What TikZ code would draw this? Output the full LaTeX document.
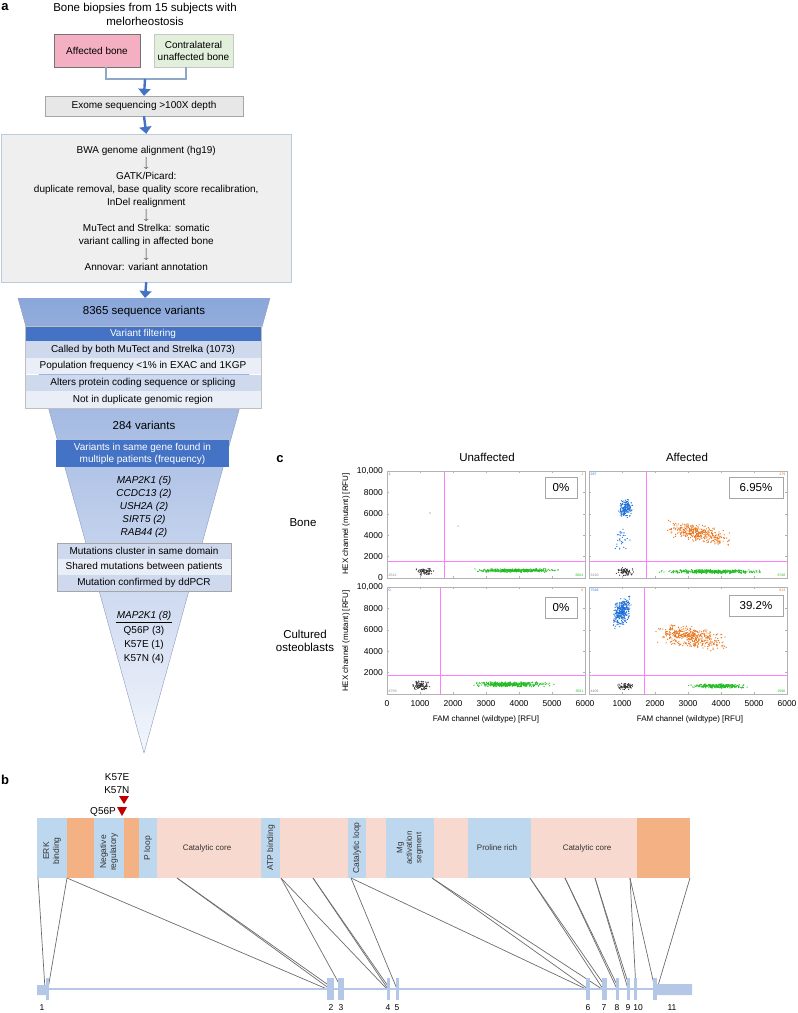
\documentclass[tikz,border=0pt]{standalone}
\usepackage{fontspec}
\setmainfont{Liberation Sans}
\usetikzlibrary{positioning,arrows.meta,calc}

\definecolor{flowblue}{HTML}{4472C4}
\definecolor{bracketblue}{HTML}{8EA9C8}
\definecolor{pinkbox}{HTML}{F4B0C2}
\definecolor{greenbox}{HTML}{E2EFDA}
\definecolor{greybox}{HTML}{E7E7E7}
\definecolor{pipebox}{HTML}{EFEFEF}
\definecolor{funtop}{HTML}{8BA7DA}
\definecolor{funtip}{HTML}{F3F6FC}
\definecolor{rowdark}{HTML}{CFD9EE}
\definecolor{rowlight}{HTML}{E9EEF7}
\definecolor{dombl}{HTML}{BDD7EE}
\definecolor{domor}{HTML}{F4B183}
\definecolor{dompk}{HTML}{F8D9CF}
\definecolor{exonbl}{HTML}{B4C7E7}
\definecolor{mutred}{HTML}{C00000}
\definecolor{dropblue}{HTML}{1F6FD6}
\definecolor{droporange}{HTML}{E8731A}
\definecolor{dropgreen}{HTML}{22BB22}
\definecolor{dropblack}{HTML}{333333}
\definecolor{gatepink}{HTML}{FF7BFF}

% droplet cloud: colour, origin x, origin y, count, FAM, spread, HEX, spread, tilt
\newcommand{\dropcloud}[9]{%
  \foreach \k in {1,...,#4}{%
    \pgfmathsetmacro\du{(rand+rand)/2}%
    \pgfmathsetmacro\dv{(rand+rand)/2}%
    \pgfmathsetmacro\fx{#2+33*(#5+#6*\du)}%
    \pgfmathsetmacro\fy{#3-10.7*(#7+#8*\dv+#9*\du)}%
    \fill[#1] (\fx,\fy) circle[radius=0.65];
  }%
}
% droplet band: colour, origin x, origin y, count, FAM from, FAM to, HEX, spread
\newcommand{\dropband}[8]{%
  \foreach \k in {1,...,#4}{%
    \pgfmathsetmacro\du{0.5+0.5*(0.5*rand+0.5*(rand+rand)/2)}%
    \pgfmathsetmacro\dv{(rand+rand)/2}%
    \pgfmathsetmacro\fx{#2+33*(#5+(#6-#5)*\du)}%
    \pgfmathsetmacro\fy{#3-10.7*(#7+#8*\dv)}%
    \fill[#1] (\fx,\fy) circle[radius=0.65];
  }%
}

\begin{document}
\begin{tikzpicture}[x=1pt,y=-1pt,
box/.style={draw=gray!70, align=center, inner sep=1pt, font=\fontsize{10}{12}\selectfont},
brk/.style={draw=bracketblue, line width=1.4pt},
arr/.style={-{Triangle[width=12pt,length=7pt]}, draw=flowblue, line width=2.4pt},
row/.style={minimum width=236, minimum height=16.25, inner sep=0pt, font=\fontsize{10}{12}\selectfont},
mrow/.style={minimum width=174, minimum height=15.67, inner sep=0pt, font=\fontsize{10}{12}\selectfont},
big/.style={font=\fontsize{11.5}{13.5}\selectfont},
panel/.style={font=\fontsize{13}{15}\selectfont\bfseries},
ticklab/.style={font=\fontsize{8.5}{10}\selectfont, inner sep=1pt},
axtitle/.style={font=\fontsize{8}{10}\selectfont, inner sep=0pt},
pct/.style={draw=gray!70, fill=white, minimum height=21, inner sep=0pt, font=\fontsize{11.5}{13}\selectfont},
frame/.style={draw=gray!60, line width=0.8pt},
tick/.style={draw=gray!60, line width=0.5pt},
gate/.style={draw=gatepink, line width=0.8pt},
count/.style={font=\fontsize{3.5}{4}\selectfont, inner sep=0.5pt},
domlab/.style={font=\fontsize{8}{9.5}\selectfont, text=black!80, inner sep=0pt, align=center},
exline/.style={draw=gray!85!black, line width=0.7pt},
exnum/.style={font=\fontsize{8.5}{10}\selectfont, inner sep=0pt}
]
\useasboundingbox (0,0) rectangle (798,1013);
\pgfmathsetseed{4242}

% ---------- panel a ----------
\node[panel] (pa) at (5,7) {a};
\node[big, align=center] (title) at (145,14.5) {Bone biopsies from 15 subjects with\\melorheostosis};
\node[box, fill=pinkbox, draw=gray!90!black, minimum width=86, minimum height=33] (aff) at (97,50.5) {Affected bone};
\node[box, fill=greenbox, draw=gray!45, minimum width=79, minimum height=33] (con) at (193.5,50.5) {Contralateral\\unaffected bone};
\coordinate (join) at (145,79);
\draw[brk] ([xshift=9pt]aff.south) |- (join) -| ([xshift=-7.5pt]con.south);
\node[box, fill=greybox, minimum width=198, minimum height=20] (exo) at (144,106) {Exome sequencing >100X depth};
\node[box, fill=pipebox, draw=bracketblue!60, minimum width=289.5, minimum height=148,
  font=\fontsize{10}{13}\selectfont] (pipe) at (146.25,208) {BWA genome alignment (hg19)\\$\big\downarrow$\\GATK/Picard:\\duplicate removal, base quality score recalibration,\\InDel realignment\\$\big\downarrow$\\MuTect and Strelka: somatic\\variant calling in affected bone\\$\big\downarrow$\\Annovar: variant annotation};
\coordinate (funtopc) at (145,298);
\draw[arr] (join) -- (exo.north);
\draw[arr] (exo.south) -- (pipe.north);

% funnel
\coordinate (tip) at (144,753);
\begin{scope}
\clip (18,298) -- (270,298) -- (tip) -- cycle;
\shade[top color=funtop, bottom color=funtip] (18,298) rectangle (270,753);
\end{scope}
\draw[draw=funtop!70!gray, line width=0.4pt] (18,298) -- (tip) -- (270,298);
\draw[arr] (pipe.south) -- (funtopc);
\node[big] (n8365) at (144,312) {8365 sequence variants};
\node[row, fill=flowblue, text=white, minimum height=15] (filt) at (143,333.5) {Variant filtering};
\node[row, fill=rowdark, below=0pt of filt] (r1) {Called by both MuTect and Strelka (1073)};
\node[row, fill=rowlight, below=0pt of r1] (r2) {Population frequency <1\% in EXAC and 1KGP};
\node[row, fill=rowdark, below=0pt of r2] (r3) {Alters protein coding sequence or splicing};
\node[row, fill=rowlight, below=0pt of r3] (r4) {Not in duplicate genomic region};
\draw[gray!50, line width=0.4pt] (filt.north west) rectangle (r4.south east);
\node[big] (n284) at (144,425) {284 variants};
\node[box, draw=none, fill=flowblue, text=white, minimum width=173, minimum height=27] (gene) at (142.5,453.5) {Variants in same gene found in\\multiple patients (frequency)};
\node[align=center, font=\fontsize{10}{13}\selectfont\itshape] (genes) at (144,507) {MAP2K1 (5)\\CCDC13 (2)\\USH2A (2)\\SIRT5 (2)\\RAB44 (2)};
\node[mrow, fill=rowdark] (m1) at (144,551) {Mutations cluster in same domain};
\node[mrow, fill=rowlight, below=0pt of m1] (m2) {Shared mutations between patients};
\node[mrow, fill=rowdark, below=0pt of m2] (m3) {Mutation confirmed by ddPCR};
\draw[gray!70, line width=0.5pt] (m1.north west) rectangle (m3.south east);
\node[font=\fontsize{10}{12}\selectfont\itshape, inner sep=1pt] (final) at (144,616) {MAP2K1 (8)};
\draw[line width=0.5pt] (final.south west) -- (final.south east);
\node[align=center, font=\fontsize{10}{14}\selectfont, below=1pt of final] (alleles) {Q56P (3)\\K57E (1)\\K57N (4)};

% ---------- panel c ----------
\node[panel] (pc) at (280,459) {c};
\node[big] (hunaff) at (487,457) {Unaffected};
\node[big] (haff) at (687,457) {Affected};
\node[big] (bone) at (303,523) {Bone};
\node[big, align=center] (cult) at (305,641) {Cultured\\osteoblasts};

% droplets
\begin{scope}
\clip (387,471) rectangle (585,578);
\dropcloud{dropblack}{387}{578}{70}{1.15}{0.3}{0.6}{0.35}{0}
\dropband{dropgreen}{387}{578}{380}{2.4}{5.4}{0.7}{0.18}
\fill[dropblue] (430,513) circle[radius=0.6];
\fill[droporange] (458,526) circle[radius=0.6];
\end{scope}
\begin{scope}
\clip (589,471) rectangle (787,578);
\dropcloud{dropblue}{589}{578}{170}{1.1}{0.22}{6.5}{0.9}{0}
\dropcloud{dropblue}{589}{578}{30}{1.0}{0.25}{3.6}{1.5}{0}
\dropcloud{droporange}{589}{578}{360}{3.3}{1.0}{4.2}{0.9}{-0.6}
\dropband{dropgreen}{589}{578}{420}{1.9}{5.6}{0.6}{0.2}
\dropcloud{dropblack}{589}{578}{70}{1.1}{0.28}{0.6}{0.4}{0}
\end{scope}
\begin{scope}
\clip (387,587) rectangle (585,694);
\dropcloud{dropblack}{387}{694}{90}{1.05}{0.28}{0.8}{0.45}{0}
\dropband{dropgreen}{387}{694}{420}{2.4}{5.1}{0.9}{0.25}
\end{scope}
\begin{scope}
\clip (589,587) rectangle (787,694);
\dropcloud{dropblue}{589}{694}{320}{1.0}{0.3}{7.7}{1.3}{0.6}
\dropcloud{droporange}{589}{694}{420}{3.1}{1.1}{5.3}{1.1}{-0.6}
\dropband{dropgreen}{589}{694}{260}{2.9}{5.0}{0.75}{0.2}
\dropcloud{dropblack}{589}{694}{70}{1.1}{0.25}{0.7}{0.35}{0}
\end{scope}

% gates
\draw[gate] (444,471) -- (444,578) (387,561) -- (585,561);
\draw[gate] (646,471) -- (646,578) (589,561) -- (787,561);
\draw[gate] (440,587) -- (440,694) (387,675) -- (585,675);
\draw[gate] (644,587) -- (644,694) (589,675) -- (787,675);

% frames and ticks
\foreach \ox/\oy in {387/578,589/578,387/694,589/694}{
  \draw[frame] (\ox,{\oy-107}) rectangle ({\ox+198},\oy);
  \foreach \t in {1,...,5}
    \draw[tick] ({\ox+33*\t},\oy) -- ++(0,-2) ({\ox+33*\t},{\oy-107}) -- ++(0,2);
  \foreach \t in {1,...,4}
    \draw[tick] (\ox,{\oy-21.4*\t}) -- ++(2,0) ({\ox+198},{\oy-21.4*\t}) -- ++(-2,0);
}

% droplet counts
\node[count, text=dropblue, anchor=north west] (cTL1) at (388,472) {1};
\node[count, text=droporange, anchor=north east] (cTL2) at (584,472) {1};
\node[count, text=gray, anchor=south west] (cTL3) at (388,577) {2512};
\node[count, text=dropgreen, anchor=south east] (cTL4) at (584,577) {6064};
\node[count, text=dropblue, anchor=north west] (cTR1) at (590,472) {297};
\node[count, text=droporange, anchor=north east] (cTR2) at (786,472) {479};
\node[count, text=gray, anchor=south west] (cTR3) at (590,577) {3130};
\node[count, text=dropgreen, anchor=south east] (cTR4) at (786,577) {6748};
\node[count, text=dropblue, anchor=north west] (cBL1) at (388,588) {0};
\node[count, text=droporange, anchor=north east] (cBL2) at (584,588) {0};
\node[count, text=gray, anchor=south west] (cBL3) at (388,693) {6759};
\node[count, text=dropgreen, anchor=south east] (cBL4) at (584,693) {3501};
\node[count, text=dropblue, anchor=north west] (cBR1) at (590,588) {7526};
\node[count, text=droporange, anchor=north east] (cBR2) at (786,588) {813};
\node[count, text=gray, anchor=south west] (cBR3) at (590,693) {4406};
\node[count, text=dropgreen, anchor=south east] (cBR4) at (786,693) {2596};

% percentages
\node[pct, minimum width=32] (pTL) at (561,487.5) {0\%};
\node[pct, minimum width=54] (pTR) at (756,487.5) {6.95\%};
\node[pct, minimum width=32] (pBL) at (561,607.5) {0\%};
\node[pct, minimum width=54] (pBR) at (756,605.5) {39.2\%};

% axes
\foreach \v/\t in {0/0,2/2000,4/4000,6/6000,8/8000,10/{10,000}}
  \node[ticklab, anchor=east] at (384,{578-10.7*\v}) {\t};
\foreach \v/\t in {2/2000,4/4000,6/6000,8/8000,10/{10,000}}
  \node[ticklab, anchor=east] at (384,{694-10.7*\v}) {\t};
\foreach \v/\t in {0/0,1/1000,2/2000,3/3000,4/4000,5/5000,6/6000}
  \node[ticklab] at ({387+33*\v},704) {\t};
\foreach \v/\t in {1/1000,2/2000,3/3000,4/4000,5/5000,6/6000}
  \node[ticklab] at ({589+33*\v},704) {\t};
\node[axtitle, rotate=90] (hexT) at (346,524) {HEX channel (mutant) [RFU]};
\node[axtitle, rotate=90] (hexB) at (346,641) {HEX channel (mutant) [RFU]};
\node[axtitle] (famL) at (486,719) {FAM channel (wildtype) [RFU]};
\node[axtitle] (famR) at (690,719) {FAM channel (wildtype) [RFU]};

% ---------- panel b ----------
\node[panel] (pb) at (5,780) {b};
\foreach \xa/\xb/\col in {37/67/dombl, 67/94/domor, 94/124/dombl, 124/139/domor, 139/157/dombl,
  157/261/dompk, 261/280/dombl, 280/348/dompk, 348/366/dombl, 366/386/dompk, 386/434/dombl,
  434/468/dompk, 468/531/dombl, 531/637/dompk, 637/690/domor}
  \fill[\col] (\xa,818) rectangle (\xb,878);
\node[domlab, rotate=90, font=\fontsize{8.5}{10}\selectfont] (erk) at (52,851) {ERK\\binding};
\node[domlab, rotate=90, font=\fontsize{8.5}{10}\selectfont] (negreg) at (109,852) {Negative\\regulatory};
\node[domlab, rotate=90, font=\fontsize{8.5}{10}\selectfont] (ploop) at (148,848) {P loop};
\node[domlab] (cat1) at (207,848) {Catalytic core};
\node[domlab, rotate=90, font=\fontsize{8.5}{10}\selectfont] (atp) at (271,848) {ATP binding};
\node[domlab, rotate=90, font=\fontsize{8.5}{10}\selectfont] (cloop) at (357,848) {Catalytic loop};
\node[domlab, rotate=90] (mg) at (410,848) {Mg\\activation\\segment};
\node[domlab] (pro) at (497,848) {Proline rich};
\node[domlab] (cat2) at (587,848) {Catalytic core};

% mutations
\coordinate (mk1) at (124,804);
\coordinate (mk2) at (122,816);
\fill[mutred] (119,796) -- (129,796) -- (mk1) -- cycle;
\fill[mutred] (117,807) -- (127,807) -- (mk2) -- cycle;
\node[anchor=east, font=\fontsize{10}{12}\selectfont, inner sep=0pt] (k57e) at (129.5,777) {K57E};
\node[anchor=east, font=\fontsize{10}{12}\selectfont, inner sep=0pt] (k57n) at (129.5,790) {K57N};
\node[anchor=east, font=\fontsize{10}{12}\selectfont, inner sep=0pt] (q56p) at (116,812) {Q56P};

% domain to exon lines
\foreach \xa/\xb in {38/45, 67/48, 67/327, 177/330, 177/334, 281/342, 281/387, 313/388, 313/390,
  351/397, 351/586, 432/588, 432/602, 530/603, 530/607, 565/617, 565/619, 595/628, 595/630,
  630/636, 630/655, 690/657}
  \draw[exline] (\xa,878) -- (\xb,989);

% gene structure
\draw[exonbl, line width=2pt] (37,989) -- (692,989);
\fill[exonbl] (37,985) rectangle (47,995) (657,984) rectangle (692,995);
\foreach \xa/\xb in {46/49, 327/334, 338/344, 387/390, 396/399, 586/590, 602/607, 616/619, 627/630, 634/637, 653/657}
  \fill[exonbl] (\xa,978) rectangle (\xb,1000);
\foreach \n/\xx in {1/42, 2/331, 3/341, 4/388, 5/397, 6/588, 7/604, 8/617, 9/628, 10/638, 11/672}
  \node[exnum] (ex\n) at (\xx,1008) {\n};
\end{tikzpicture}
\end{document}
